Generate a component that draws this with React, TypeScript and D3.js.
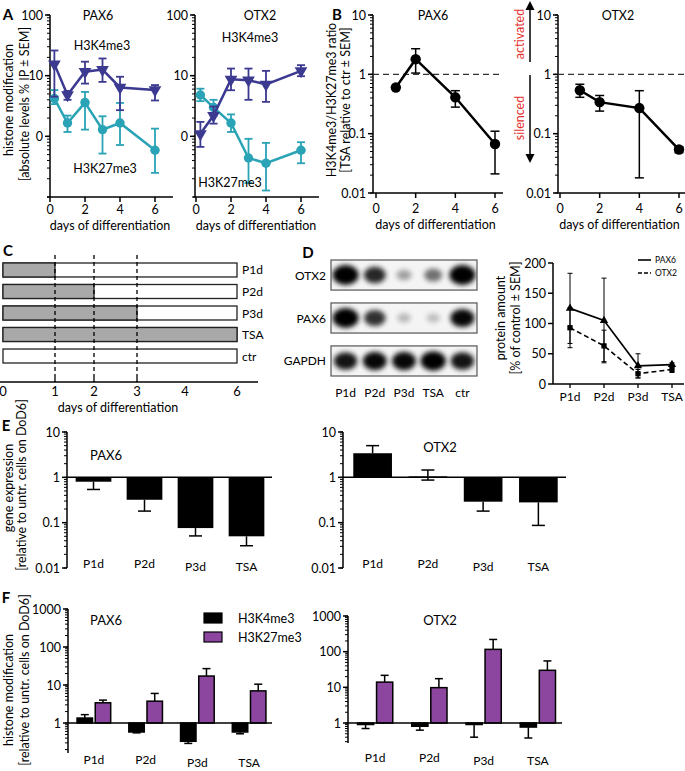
import React from "react";
import * as d3 from "d3";

const FONT = "Lato, 'Open Sans', 'DejaVu Sans', sans-serif";
const NAVY = "#3b3990";
const CYAN = "#29a3b5";
const PURPLE = "#8c469f";
const RED = "#e3302d";

// ---------- Panel A: absolute histone modification levels ----------
const daysA = [0.25, 1, 2, 3, 4, 6];
const aPaxK4 = [15.5, 4.8, 11.6, 12.6, 6.4, 5.8];
const aPaxK4Hi = [26, 5.6, 17, 19.2, 9.6, 7.0];
const aPaxK4Lo = [4.5, 4.0, 7.4, 7.9, 2.7, 3.9];
const aPaxK27 = [4.2, 1.66, 3.6, 1.29, 1.66, 0.59];
const aPaxK27Hi = [5.8, 2.2, 5.4, 2.14, 3.55, 1.34];
const aPaxK27Lo = [3.4, 1.18, 1.29, 0.52, 0.72, 0.25];
const aOtxK4 = [1.1, 2.2, 8.7, 8.4, 7.2, 12];
const aOtxK4Hi = [1.73, 3.1, 13.1, 13.1, 12, 14.9];
const aOtxK4Lo = [0.67, 1.62, 5.75, 4.0, 3.7, 9.8];
const aOtxK27 = [4.8, 3.0, 1.66, 0.44, 0.36, 0.59];
const aOtxK27Hi = [6.1, 4.0, 2.3, 0.91, 0.78, 0.8];
const aOtxK27Lo = [3.8, 2.2, 1.18, 0.17, 0.128, 0.36];
const aYTicks = [100, 10, 1];
const aYLabels = ["100", "10", "0"];
const dayTicks = [0, 2, 4, 6];

// ---------- Panel B: ratio ----------
const daysB = [1, 2, 4, 6];
const bPax = [0.6, 1.8, 0.41, 0.067];
const bPaxHi = [null, 2.7, 0.53, 0.11];
const bPaxLo = [null, 1.05, 0.28, 0.021];
const bOtx = [0.54, 0.34, 0.27, 0.054];
const bOtxHi = [0.68, 0.44, 0.53, 0.06];
const bOtxLo = [0.41, 0.24, 0.018, 0.048];
const bYTicks = [10, 1, 0.1, 0.01];
const bYLabels = ["10", "1", "0.1", "0.01"];

// ---------- Panel C: schedule ----------
const cRows = ["P1d", "P2d", "P3d", "TSA", "ctr"];
const cTreatEnd = [1, 2, 3, 6, 0];
const cDayTicks = [0, 1, 2, 3, 4, 6];
const cDashDays = [1, 2, 3];

// ---------- Panel D: western blot + quantification ----------
const dLanes = ["P1d", "P2d", "P3d", "TSA", "ctr"];
const dRows = ["OTX2", "PAX6", "GAPDH"];
const dBandOTX2 = [1, 0.72, 0.22, 0.42, 1];
const dBandPAX6 = [1, 0.68, 0.12, 0.1, 0.85];
const dBandGAPDH = [0.8, 0.85, 0.85, 0.95, 0.8];
const dGroups = ["P1d", "P2d", "P3d", "TSA"];
const dPax = [125, 105, 30, 32];
const dPaxErr = [58, 70, 20, 3];
const dOtx = [93, 63, 17, 24];
const dOtxErr = [33, 26, 7, 5];
const dYTicks = [0, 50, 100, 150, 200];

// ---------- Panel E: gene expression ----------
const eGroups = ["P1d", "P2d", "P3d", "TSA"];
const ePax = [0.8, 0.32, 0.076, 0.05];
const ePaxHi = [null, null, null, null];
const ePaxLo = [0.54, 0.18, 0.051, 0.031];
const eOtx = [3.4, 1.05, 0.29, 0.28];
const eOtxHi = [5.0, 1.45, null, null];
const eOtxLo = [null, 0.87, 0.18, 0.087];
const eYTicks = [10, 1, 0.1, 0.01];
const eYLabels = ["10", "1", "0.1", "0.01"];

// ---------- Panel F: relative histone modification ----------
const fSeries = ["H3K4me3", "H3K27me3"];
const fPaxK4 = [1.35, 0.58, 0.33, 0.58];
const fPaxK4Err = [1.66, 0.55, 0.29, 0.52];
const fPaxK27 = [3.4, 3.75, 17.2, 7.0];
const fPaxK27Err = [4.0, 6.0, 27, 10.5];
const fOtxK4 = [0.92, 0.81, 0.99, 0.77];
const fOtxK4Err = [0.7, 0.63, 0.4, 0.38];
const fOtxK27 = [14, 9.8, 116, 30];
const fOtxK27Err = [21.7, 17.5, 220, 55];
const fYTicks = [1000, 100, 10, 1];
const fYLabels = ["1000", "100", "10", "1"];

function minorLog(lo: number, hi: number) {
  const out: number[] = [];
  for (let e = Math.floor(Math.log10(lo)) - 1; e <= Math.ceil(Math.log10(hi)); e++) {
    for (let m = 1; m < 10; m++) {
      const v = m * Math.pow(10, e);
      if (v >= lo * 0.9999 && v <= hi * 1.0001) out.push(v);
    }
  }
  return out;
}

function YAxis({ x, y, top, bottom, ticks, labels, minors = [] as number[], fs = 12.5, sw = 1.5, tl = 5, ml = 3 }: any) {
  return (
    <g>
      <line x1={x} x2={x} y1={top} y2={bottom} stroke="#000" strokeWidth={sw} />
      {minors.map((v: number, i: number) => (
        <line key={"m" + i} x1={x - ml} x2={x} y1={y(v)} y2={y(v)} stroke="#000" strokeWidth={1} />
      ))}
      {ticks.map((v: number, i: number) => (
        <g key={i}>
          <line x1={x - tl} x2={x} y1={y(v)} y2={y(v)} stroke="#000" strokeWidth={sw} />
          <text x={x - tl - 2} y={y(v)} textAnchor="end" dominantBaseline="central" fontSize={fs}>
            {labels[i]}
          </text>
        </g>
      ))}
    </g>
  );
}

function VText({ x, y, children, fs = 12.5, fill = "#000" }: any) {
  return (
    <text transform={`translate(${x},${y}) rotate(-90)`} textAnchor="middle" dominantBaseline="central" fontSize={fs} fill={fill}>
      {children}
    </text>
  );
}

function Txt({ x, y, children, fs = 12.5, anchor = "middle", weight = "normal", fill = "#000" }: any) {
  return (
    <text x={x} y={y} textAnchor={anchor} dominantBaseline="central" fontSize={fs} fontWeight={weight} fill={fill}>
      {children}
    </text>
  );
}

function ErrBar({ x, y1, y2, cap = 8, sw = 1.5, color = "#000", capTop = true, capBottom = true }: any) {
  return (
    <g stroke={color} strokeWidth={sw}>
      <line x1={x} x2={x} y1={y1} y2={y2} />
      {capTop && <line x1={x - cap / 2} x2={x + cap / 2} y1={y1} y2={y1} />}
      {capBottom && <line x1={x - cap / 2} x2={x + cap / 2} y1={y2} y2={y2} />}
    </g>
  );
}

function LineSeries({ x, y, xs, v, hi, lo, color, sym, symSize, rotate = 0, lw, cap, ew, dash }: any) {
  const pts = v.map((d: number, i: number) => [x(xs[i]), y(d)]);
  const path = d3.line()(pts);
  const symPath = d3.symbol().type(sym).size(symSize)();
  return (
    <g>
      {v.map((d: number, i: number) =>
        hi[i] != null && lo[i] != null ? (
          <ErrBar key={"e" + i} x={pts[i][0]} y1={y(hi[i])} y2={y(lo[i])} cap={cap} sw={ew} color={color} />
        ) : null
      )}
      <path d={path || ""} fill="none" stroke={color} strokeWidth={lw} strokeDasharray={dash} />
      {pts.map((p: number[], i: number) => (
        <path key={"s" + i} d={symPath || ""} fill={color} transform={`translate(${p[0]},${p[1]}) rotate(${rotate})`} />
      ))}
    </g>
  );
}

function PlotA({ axisX, xr, title, titleXY, k4XY, k27XY, k4, k4Hi, k4Lo, k27, k27Hi, k27Lo }: any) {
  const y = d3.scaleLog().domain([0.1, 100]).range([197, 15]);
  const x = d3.scaleLinear().domain([0, 6]).range(xr);
  return (
    <g>
      <YAxis x={axisX} y={y} top={15} bottom={197} ticks={aYTicks} labels={aYLabels} minors={minorLog(0.1, 100)} />
      <line x1={x(0) - 3} x2={x(0) + 123} y1={197} y2={197} stroke="#000" strokeWidth={1.5} />
      {dayTicks.map((d) => (
        <g key={d}>
          <line x1={x(d)} x2={x(d)} y1={197} y2={202} stroke="#000" strokeWidth={1.5} />
          <Txt x={x(d)} y={209}>{d}</Txt>
        </g>
      ))}
      <Txt x={x(0) + 60} y={225}>days of differentiation</Txt>
      <LineSeries x={x} y={y} xs={daysA} v={k27} hi={k27Hi} lo={k27Lo} color={CYAN} sym={d3.symbolCircle} symSize={70} lw={2.5} cap={8} ew={1.8} />
      <LineSeries x={x} y={y} xs={daysA} v={k4} hi={k4Hi} lo={k4Lo} color={NAVY} sym={d3.symbolTriangle} symSize={70} rotate={180} lw={2.5} cap={8} ew={1.8} />
      <Txt x={titleXY[0]} y={titleXY[1]}>{title}</Txt>
      <Txt x={k4XY[0]} y={k4XY[1]}>H3K4me3</Txt>
      <Txt x={k27XY[0]} y={k27XY[1]}>H3K27me3</Txt>
    </g>
  );
}

function PlotB({ axisX, xr, xEnd, title, titleXY, v, hi, lo }: any) {
  const y = d3.scaleLog().domain([0.01, 10]).range([193, 15]);
  const x = d3.scaleLinear().domain([0, 6]).range(xr);
  return (
    <g>
      <YAxis x={axisX} y={y} top={15} bottom={193} ticks={bYTicks} labels={bYLabels} minors={minorLog(0.01, 10)} />
      <line x1={axisX} x2={xEnd} y1={193} y2={193} stroke="#000" strokeWidth={1.5} />
      {dayTicks.map((d) => (
        <g key={d}>
          <line x1={x(d)} x2={x(d)} y1={193} y2={198} stroke="#000" strokeWidth={1.5} />
          <Txt x={x(d)} y={208}>{d}</Txt>
        </g>
      ))}
      <Txt x={x(3)} y={224}>days of differentiation</Txt>
      <line x1={axisX} x2={xEnd} y1={y(1)} y2={y(1)} stroke="#333" strokeWidth={1.3} strokeDasharray="6,4" />
      <LineSeries x={x} y={y} xs={daysB} v={v} hi={hi} lo={lo} color="#000" sym={d3.symbolCircle} symSize={85} lw={2.5} cap={9} ew={1.5} />
      <Txt x={titleXY[0]} y={titleXY[1]}>{title}</Txt>
    </g>
  );
}

function PanelC() {
  const x = d3.scaleLinear().domain(cDayTicks).range([3, 55, 94, 137, 185, 237]);
  const y = d3.scaleBand().domain(cRows).range([263, 363]).paddingInner(0.35);
  const bh = y.bandwidth();
  return (
    <g>
      {cRows.map((r, i) => (
        <g key={r}>
          <rect x={x(0)} y={y(r)} width={x(6) - x(0)} height={bh} fill="#fff" stroke="#222" strokeWidth={1.3} />
          {cTreatEnd[i] > 0 && (
            <rect x={x(0)} y={y(r)} width={x(cTreatEnd[i]) - x(0)} height={bh} fill="#a9a9a9" stroke="#222" strokeWidth={1.3} />
          )}
          <Txt x={x(6) + 5} y={(y(r) as number) + bh / 2} anchor="start" fs={12}>{r}</Txt>
        </g>
      ))}
      {cDashDays.map((d) => (
        <line key={d} x1={x(d)} x2={x(d)} y1={255} y2={382} stroke="#000" strokeWidth={1.3} strokeDasharray="4,3" />
      ))}
      <line x1={0} x2={258} y1={382} y2={382} stroke="#000" strokeWidth={1.5} />
      {cDashDays.map((d) => (
        <line key={"t" + d} x1={x(d)} x2={x(d)} y1={378} y2={382} stroke="#000" strokeWidth={1.3} />
      ))}
      {cDayTicks.map((d) => (
        <Txt key={"l" + d} x={x(d)} y={391} fs={13}>{d}</Txt>
      ))}
      <Txt x={118} y={407}>days of differentiation</Txt>
    </g>
  );
}

function Blot() {
  const x = d3.scaleBand().domain(dLanes).range([331, 477]);
  const y = d3.scaleBand().domain(dRows).range([260, 376]).paddingInner(0.3);
  const bands = [dBandOTX2, dBandPAX6, dBandGAPDH];
  return (
    <g>
      <defs>
        <filter id="blur" x="-60%" y="-60%" width="220%" height="220%">
          <feGaussianBlur stdDeviation="2.4" />
        </filter>
        {dRows.map((r) => (
          <clipPath id={"clip" + r} key={r}>
            <rect x={331} y={y(r)} width={146} height={y.bandwidth()} />
          </clipPath>
        ))}
      </defs>
      {dRows.map((r, ri) => {
        const cy = (y(r) as number) + y.bandwidth() / 2;
        return (
          <g key={r}>
            <rect x={331} y={y(r)} width={146} height={y.bandwidth()} fill="#f4f4f4" />
            <g clipPath={`url(#clip${r})`}>
              {dLanes.map((l, li) => {
                const v = bands[ri][li];
                const cx = (x(l) as number) + x.bandwidth() / 2;
                return (
                  <ellipse key={l} cx={cx} cy={cy} rx={6 + 7 * v} ry={4 + 6 * v} fill="#000" opacity={Math.min(1, 0.12 + v)} filter="url(#blur)" />
                );
              })}
            </g>
            <rect x={331} y={y(r)} width={146} height={y.bandwidth()} fill="none" stroke="#555" strokeWidth={1.2} />
            <Txt x={326} y={cy} anchor="end" fs={12}>{r}</Txt>
          </g>
        );
      })}
      {dLanes.map((l) => (
        <Txt key={l} x={(x(l) as number) + x.bandwidth() / 2} y={392} fs={12}>{l}</Txt>
      ))}
    </g>
  );
}

function PlotD() {
  const x = d3.scalePoint().domain(dGroups).range([553, 689]).padding(0.5);
  const y = d3.scaleLinear().domain([0, 200]).range([384, 263]);
  const hi = (v: number[], e: number[]) => v.map((d, i) => d + e[i]);
  const lo = (v: number[], e: number[]) => v.map((d, i) => d - e[i]);
  return (
    <g>
      <YAxis x={553} y={y} top={263} bottom={384} ticks={dYTicks} labels={dYTicks.map(String)} />
      <line x1={553} x2={684} y1={384} y2={384} stroke="#000" strokeWidth={1.5} />
      {dGroups.map((g) => (
        <g key={g}>
          <line x1={x(g)} x2={x(g)} y1={384} y2={388} stroke="#000" strokeWidth={1.3} />
          <Txt x={x(g)} y={396} fs={12}>{g}</Txt>
        </g>
      ))}
      <LineSeries x={x} y={y} xs={dGroups} v={dOtx} hi={hi(dOtx, dOtxErr)} lo={lo(dOtx, dOtxErr)} color="#000" sym={d3.symbolSquare} symSize={28} lw={1.6} cap={5} ew={1} dash="5,3" />
      <LineSeries x={x} y={y} xs={dGroups} v={dPax} hi={hi(dPax, dPaxErr)} lo={lo(dPax, dPaxErr)} color="#000" sym={d3.symbolTriangle} symSize={30} lw={1.6} cap={5} ew={1} />
      <line x1={638} x2={651} y1={260} y2={260} stroke="#000" strokeWidth={1.6} />
      <Txt x={655} y={260} anchor="start" fs={8.5}>PAX6</Txt>
      <line x1={638} x2={651} y1={273} y2={273} stroke="#000" strokeWidth={1.6} strokeDasharray="4,2" />
      <Txt x={655} y={273} anchor="start" fs={8.5}>OTX2</Txt>
      <VText x={500} y={318}>protein amount</VText>
      <VText x={515} y={318}>[% of control ± SEM]</VText>
    </g>
  );
}

function PlotE({ axisX, xr, v, hi, lo, title, titleXY }: any) {
  const y = d3.scaleLog().domain([0.01, 10]).range([568, 432]);
  const x = d3.scaleBand().domain(eGroups).range(xr).paddingInner(0.3).paddingOuter(0.15);
  const y1 = y(1);
  return (
    <g>
      <YAxis x={axisX} y={y} top={432} bottom={568} ticks={eYTicks} labels={eYLabels} minors={minorLog(0.01, 10)} />
      {eGroups.map((g, i) => {
        const bx = x(g) as number;
        const cx = bx + x.bandwidth() / 2;
        const yv = y(v[i]);
        return (
          <g key={g}>
            <rect x={bx} y={Math.min(yv, y1)} width={x.bandwidth()} height={Math.abs(yv - y1)} fill="#000" />
            {hi[i] != null && <ErrBar x={cx} y1={y(hi[i])} y2={yv} cap={13} capBottom={false} />}
            {lo[i] != null && <ErrBar x={cx} y1={yv} y2={y(lo[i])} cap={13} capTop={false} />}
            <Txt x={cx} y={i >= 2 ? 566 : 563} fs={12}>{g}</Txt>
          </g>
        );
      })}
      <line x1={axisX} x2={xr[1]} y1={y1} y2={y1} stroke="#000" strokeWidth={1.5} />
      <Txt x={titleXY[0]} y={titleXY[1]} fs={13}>{title}</Txt>
    </g>
  );
}

function PlotF({ axisX, xr, yTop, axisBottom, k4, k4Err, k27, k27Err, title, titleXY, labelY }: any) {
  const y = d3.scaleLog().domain([1, 1000]).range([723, yTop]);
  const x = d3.scaleBand().domain(eGroups).range(xr).paddingInner(0.35).paddingOuter(0.175);
  const xs = d3.scaleBand().domain(fSeries).range([0, x.bandwidth()]).paddingInner(0.15);
  const y1 = y(1);
  const lowV = y.invert(axisBottom);
  return (
    <g>
      <YAxis x={axisX} y={y} top={yTop} bottom={axisBottom} ticks={fYTicks} labels={fYLabels} minors={minorLog(Math.ceil(lowV * 10) / 10, 1000)} />
      {eGroups.map((g, i) => {
        const gx = x(g) as number;
        const bars = [
          { s: fSeries[0], v: k4[i], e: k4Err[i], fill: "#000" },
          { s: fSeries[1], v: k27[i], e: k27Err[i], fill: PURPLE },
        ];
        return (
          <g key={g}>
            {bars.map((b) => {
              const bx = gx + (xs(b.s) as number);
              const cx = bx + xs.bandwidth() / 2;
              const yv = y(b.v);
              const ye = y(b.e);
              return (
                <g key={b.s}>
                  <ErrBar x={cx} y1={Math.min(yv, ye)} y2={Math.max(yv, ye)} cap={8} capTop={ye < yv} capBottom={ye > yv} />
                  <rect x={bx} y={Math.min(yv, y1)} width={xs.bandwidth()} height={Math.max(1.5, Math.abs(yv - y1))} fill={b.fill} stroke="#000" strokeWidth={1.5} />
                </g>
              );
            })}
            <Txt x={gx + x.bandwidth() / 2} y={i >= 2 ? labelY + 3 : labelY} fs={12}>{g}</Txt>
          </g>
        );
      })}
      <line x1={axisX} x2={xr[1] - 3} y1={y1} y2={y1} stroke="#000" strokeWidth={1.5} />
      <Txt x={titleXY[0]} y={titleXY[1]} fs={13}>{title}</Txt>
    </g>
  );
}

export default function App() {
  return (
    <svg width={685} height={771} viewBox="0 0 685 771" style={{ position: "absolute", left: 0, top: 0 }} fontFamily={FONT}>
      <rect width={685} height={771} fill="#fff" />
      {/* Panel A */}
      <Txt x={8} y={14} fs={15} weight="bold">A</Txt>
      <VText x={8} y={100}>histone modification</VText>
      <VText x={24} y={104}>[absolute levels % IP ± SEM]</VText>
      <PlotA axisX={50} xr={[50, 155]} title="PAX6" titleXY={[98, 15]} k4XY={[102, 45]} k27XY={[105, 168]}
        k4={aPaxK4} k4Hi={aPaxK4Hi} k4Lo={aPaxK4Lo} k27={aPaxK27} k27Hi={aPaxK27Hi} k27Lo={aPaxK27Lo} />
      <PlotA axisX={195} xr={[196, 301]} title="OTX2" titleXY={[260, 15]} k4XY={[250, 37]} k27XY={[230, 182]}
        k4={aOtxK4} k4Hi={aOtxK4Hi} k4Lo={aOtxK4Lo} k27={aOtxK27} k27Hi={aOtxK27Hi} k27Lo={aOtxK27Lo} />

      {/* Panel B */}
      <Txt x={337} y={14} fs={15} weight="bold">B</Txt>
      <VText x={331} y={100}>H3K4me3/H3K27me3 ratio</VText>
      <VText x={345} y={100}>[TSA relative to ctr ± SEM]</VText>
      <PlotB axisX={373} xr={[376, 495]} xEnd={503} title="PAX6" titleXY={[433, 15]} v={bPax} hi={bPaxHi} lo={bPaxLo} />
      <PlotB axisX={558} xr={[560, 679]} xEnd={685} title="OTX2" titleXY={[618, 15]} v={bOtx} hi={bOtxHi} lo={bOtxLo} />
      <g stroke="#000" strokeWidth={1.5}>
        <line x1={530} x2={530} y1={9} y2={62} />
        <line x1={530} x2={530} y1={75} y2={155} />
      </g>
      <path d="M530,1 L525.5,10 L534.5,10 Z" fill="#000" />
      <path d="M530,163 L525.5,154 L534.5,154 Z" fill="#000" />
      <VText x={519} y={34} fill={RED}>activated</VText>
      <VText x={519} y={118} fill={RED}>silenced</VText>

      {/* Panel C */}
      <Txt x={8} y={250} fs={15} weight="bold">C</Txt>
      <PanelC />

      {/* Panel D */}
      <Txt x={308} y={252} fs={15} weight="bold">D</Txt>
      <Blot />
      <PlotD />

      {/* Panel E */}
      <Txt x={6} y={425} fs={15} weight="bold">E</Txt>
      <VText x={8} y={488}>gene expression</VText>
      <VText x={21} y={485}>[relative to untr. cells on DoD6]</VText>
      <PlotE axisX={67} xr={[68, 272]} v={ePax} hi={ePaxHi} lo={ePaxLo} title="PAX6" titleXY={[106, 455]} />
      <PlotE axisX={343} xr={[345, 566]} v={eOtx} hi={eOtxHi} lo={eOtxLo} title="OTX2" titleXY={[440, 447]} />

      {/* Panel F */}
      <Txt x={6} y={597} fs={15} weight="bold">F</Txt>
      <VText x={8} y={690}>histone modification</VText>
      <VText x={24} y={680}>[relative to untr. cells on DoD6]</VText>
      <PlotF axisX={68} xr={[68, 275]} yTop={609} axisBottom={753} k4={fPaxK4} k4Err={fPaxK4Err} k27={fPaxK27} k27Err={fPaxK27Err}
        title="PAX6" titleXY={[106, 620]} labelY={759} />
      <PlotF axisX={348} xr={[348, 565]} yTop={616} axisBottom={743} k4={fOtxK4} k4Err={fOtxK4Err} k27={fOtxK27} k27Err={fOtxK27Err}
        title="OTX2" titleXY={[440, 620]} labelY={757} />
      <rect x={204} y={613} width={18} height={10} fill="#000" stroke="#000" strokeWidth={1.2} />
      <Txt x={238} y={618} anchor="start">{fSeries[0]}</Txt>
      <rect x={204} y={632} width={18} height={10} fill={PURPLE} stroke="#000" strokeWidth={1.2} />
      <Txt x={238} y={637} anchor="start">{fSeries[1]}</Txt>
    </svg>
  );
}
